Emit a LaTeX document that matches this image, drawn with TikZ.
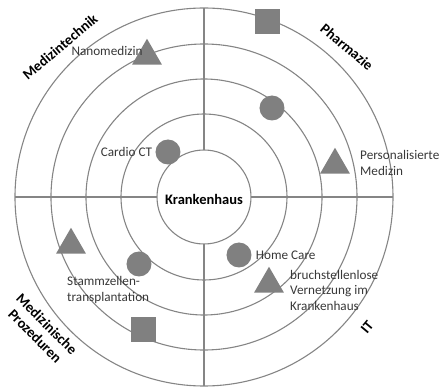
\documentclass[tikz,border=0pt]{standalone}
\usepackage{fontspec}
\setmainfont{Carlito}
\usetikzlibrary{shapes.geometric,positioning}

\begin{document}
\begin{tikzpicture}[
    x=1pt, y=1pt,
    ring/.style={draw=black!48, line width=1.1pt},
    marker/.style={fill=black!50, inner sep=0pt},
    dot/.style={marker, circle, minimum size=25pt},
    tri/.style={marker, regular polygon, regular polygon sides=3, minimum size=34.5pt},
    box/.style={marker, rectangle, minimum size=25pt},
    lbl/.style={font=\fontsize{13.2}{15.5}\selectfont, text=black!78, inner sep=1pt, align=left},
    sector/.style={font=\fontsize{14.5}{16.5}\selectfont\bfseries, align=center, inner sep=0pt}
]
    \useasboundingbox (-204,-194) rectangle (236,197);

    % --- Rings ---
    \foreach \r in {47,83,118,153,189}
        \draw[ring] (0,0) circle[radius=\r];

    % --- Axes (from inner ring outwards) ---
    \draw[ring] (0,47) -- (0,189);
    \draw[ring] (0,-47) -- (0,-189);
    \draw[ring] (47,0) -- (189,0);
    \draw[ring] (-47,0) -- (-189,0);

    % --- Centre ---
    \node[sector] (centre) at (0,-2) {Krankenhaus};

    % --- Sectors ---
    \node[sector, rotate=40] (medtech) at (-144,150) {Medizintechnik};
    \node[sector, rotate=-40] (pharma) at (143,150) {Pharmazie};
    \node[sector, rotate=-45] (proz) at (-163,-133) {Medizinische\\Prozeduren};
    \node[sector, rotate=50] (it) at (163,-130) {IT};

    % --- Medizintechnik ---
    \node[tri] (nano) at (-57,141) {};
    \node[lbl] (nano-lbl) at (-97,146) {Nanomedizin};
    \node[dot] (cardio) at (-36,45) {};
    \node[lbl, left=2pt of cardio] (cardio-lbl) {Cardio CT};

    % --- Pharmazie ---
    \node[box] (pharma-box) at (64,175) {};
    \node[dot] (pharma-dot) at (68,89) {};
    \node[tri] (persmed) at (131,32) {};
    \node[lbl, anchor=west] (persmed-lbl) at (155,34) {Personalisierte\\Medizin};

    % --- Medizinische Prozeduren ---
    \node[tri] (proz-tri) at (-133,-48) {};
    \node[dot] (stamm) at (-65,-67) {};
    \node[lbl, anchor=west] (stamm-lbl) at (-138,-93) {Stammzellen-\\transplantation};
    \node[box] (proz-box) at (-60,-133) {};

    % --- IT ---
    \node[dot] (home) at (35,-58) {};
    \node[lbl, right=3pt of home] (home-lbl) {Home Care};
    \node[tri] (vernetz) at (65,-87) {};
    \node[lbl, anchor=west] (vernetz-lbl) at (85,-93) {bruchstellenlose\\Vernetzung im\\Krankenhaus};

\end{tikzpicture}
\end{document}
